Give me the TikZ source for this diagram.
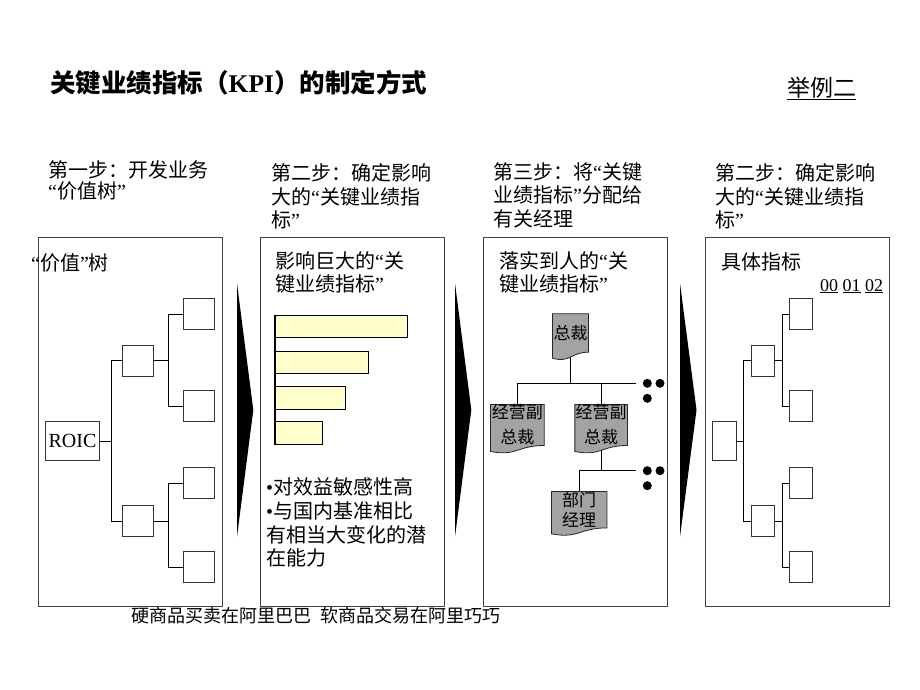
\documentclass[tikz,border=0pt]{standalone}
\usepackage{fontspec}
\setmainfont{Noto Sans CJK SC}
\newfontfamily\tnr{Liberation Serif}
\usetikzlibrary{backgrounds}

\definecolor{barfill}{HTML}{FFFFCC}
\definecolor{docfill}{HTML}{A3A3A3}

\newcommand\oq{{\tnr “}}
\newcommand\cq{{\tnr ”}}
% page with a wavy bottom edge, drawn round a named node
\newcommand\docpath[1]{\filldraw[fill=docfill,draw=black!85,line width=0.8pt]
  (#1.north west) -- (#1.north east) -- (#1.south east)
  .. controls (#1.south) and ([yshift=-11pt]#1.south) .. ([yshift=-6pt]#1.south west) -- cycle;}

% multi-line text: base anchor sits on the last line
\tikzset{
  every node/.style={inner sep=0pt},
  panel/.style={draw=black!75, line width=0.8pt, minimum width=184pt, minimum height=369pt},
  tbox/.style={draw=black!80, line width=0.8pt, minimum height=31pt},
  head/.style={anchor=base west, align=left, font=\fontsize{20}{23.5}\selectfont},
  docbox/.style={align=center, font=\fontsize{17}{25}\selectfont},
  bar/.style={draw, fill=barfill, line width=0.7pt, anchor=west, minimum height=22.7pt},
  link/.style={line width=0.9pt},
}

\begin{document}
\begin{tikzpicture}[x=1pt,y=-1pt]
\useasboundingbox (0,0) rectangle (920,690);

\node[anchor=base west, font=\fontsize{25.5}{28}\selectfont\bfseries] (title) at (50,92.3) {关键业绩指标（{\tnr KPI}）的制定方式};
\node[anchor=base west, font=\fontsize{23}{26}\selectfont] (ex) at (787,96.2) {举例二};
\draw[line width=1pt] ([yshift=-3.3pt]ex.base west) -- ([yshift=-3.3pt]ex.base east);

% steps
\node[head, font=\fontsize{20}{21}\selectfont] (s1) at (48,198.6) {第一步：开发业务\\\oq 价值树\cq};
\node[head] (s2) at (271,227.9) {第二步：确定影响\\大的\oq 关键业绩指\\标\cq};
\node[head] (s3) at (493,226.3) {第三步：将\oq 关键\\业绩指标\cq 分配给\\有关经理};
\node[head] (s4) at (715,227.9) {第二步：确定影响\\大的\oq 关键业绩指\\标\cq};

\node[panel] (p1) at (130,421.5) {};
\node[panel] (p2) at (352.5,421.5) {};
\node[panel] (p3) at (575,421.5) {};
\node[panel] (p4) at (797,421.5) {};

\fill (237,283.3) -- (253.3,410) -- (237,536.7) -- cycle;
\fill (455,283.3) -- (471.3,410) -- (455,536.7) -- cycle;
\fill (680,283.3) -- (696.5,410) -- (680,536.7) -- cycle;

% value tree
\node[head, font=\fontsize{20}{22.7}\selectfont] (t1) at (31,270) {\oq 价值\cq 树};
\node[tbox, minimum width=53.6pt, minimum height=38.3pt, font=\tnr\fontsize{20}{22}\selectfont] (roic) at (72.5,441) {ROIC};
\node[tbox, minimum width=31pt] (a1) at (137.8,360.5) {};
\node[tbox, minimum width=31pt] (a2) at (137.8,521) {};
\node[tbox, minimum width=31pt] (a11) at (198.8,314) {};
\node[tbox, minimum width=31pt] (a12) at (198.8,406) {};
\node[tbox, minimum width=31pt] (a21) at (198.8,483) {};
\node[tbox, minimum width=31pt] (a22) at (198.8,567) {};
\draw[link] (roic.east) -- ++(11.7,0) |- (a1.west);
\draw[link] (roic.east) -- ++(11.7,0) |- (a2.west);
\draw[link] (a1.east) -- ++(15,0) |- (a11.west);
\draw[link] (a1.east) -- ++(15,0) |- (a12.west);
\draw[link] (a2.east) -- ++(15,0) |- (a21.west);
\draw[link] (a2.east) -- ++(15,0) |- (a22.west);

% key indicators
\node[head, font=\fontsize{20}{22.7}\selectfont] (t2) at (275,291.2) {影响巨大的\oq 关\\键业绩指标\cq};
\node[bar, minimum width=131.7pt] (k1) at (275,326.2) {};
\node[bar, minimum width=93.3pt] (k2) at (275,362.2) {};
\node[bar, minimum width=70pt] (k3) at (275,397.5) {};
\node[bar, minimum width=47.3pt] (k4) at (275,432.9) {};
\draw[line width=2.6pt] (k1.north west) -- (k4.south west);
\node[head, font=\fontsize{20}{23.7}\selectfont] (why) at (266,565.7) {{\tnr •}对效益敏感性高\\{\tnr •}与国内基准相比\\有相当大变化的潜\\在能力};

% owners
\node[head, font=\fontsize{20}{22.7}\selectfont] (t3) at (499,291.2) {落实到人的\oq 关\\键业绩指标\cq};
\node[docbox, minimum width=35.6pt, minimum height=38pt] (ceo) at (570.5,333) {总裁};
\node[docbox, minimum width=53.3pt, minimum height=38pt] (vp1) at (517.3,425) {经营副\\总裁};
\node[docbox, minimum width=52.3pt, minimum height=38pt] (vp2) at (601.2,425) {经营副\\总裁};
\node[docbox, minimum width=55pt, minimum height=36pt, font=\fontsize{17}{20}\selectfont] (dm) at (579.2,509.7) {部门\\经理};
\coordinate (bus1) at (635.7,383.3);
\coordinate (bus2) at (635.7,470.7);
\begin{scope}[on background layer]
\draw[link] (ceo.south) -- (ceo.south |- bus1);
\draw[link] (vp1.north) |- (bus1);
\draw[link] (vp2.north) -- (vp2.north |- bus1);
\draw[link] (vp2.south) -- (vp2.south |- bus2);
\draw[link] (dm.north) |- (bus2);
\docpath{ceo} \docpath{vp1} \docpath{vp2} \docpath{dm}
\end{scope}
\foreach \b in {bus1,bus2} {
  \fill ([xshift=11.6pt]\b) circle (4.5pt);
  \fill ([xshift=24.3pt]\b) circle (4.5pt);
  \fill ([xshift=11.6pt,yshift=-15pt]\b) circle (4.5pt);
}

% indicator tree
\node[head, font=\fontsize{20}{22.7}\selectfont] (t4) at (721.7,269.3) {具体指标};
\node[anchor=base west, font=\tnr\fontsize{18}{20}\selectfont] (yrs) at (820,291) {\underline{00} \underline{01} \underline{02}};
\node[tbox, minimum width=23.6pt, minimum height=38.3pt] (r) at (724.2,441) {};
\node[tbox, minimum width=23.3pt] (c1) at (762.7,360.5) {};
\node[tbox, minimum width=23.3pt] (c2) at (762.7,521) {};
\node[tbox, minimum width=23.4pt] (c11) at (801,314) {};
\node[tbox, minimum width=23.4pt] (c12) at (801,406) {};
\node[tbox, minimum width=23.4pt] (c21) at (801,483) {};
\node[tbox, minimum width=23.4pt] (c22) at (801,567) {};
\draw[link] (r.east) -- ++(7.3,0) |- (c1.west);
\draw[link] (r.east) -- ++(7.3,0) |- (c2.west);
\draw[link] (c1.east) -- ++(7.4,0) |- (c11.west);
\draw[link] (c1.east) -- ++(7.4,0) |- (c12.west);
\draw[link] (c2.east) -- ++(7.4,0) |- (c21.west);
\draw[link] (c2.east) -- ++(7.4,0) |- (c22.west);

\node[anchor=base west, font=\fontsize{18}{20}\selectfont] (note) at (131.7,622.5) {硬商品买卖在阿里巴巴\hspace{9pt}软商品交易在阿里巧巧};
\end{tikzpicture}
\end{document}
